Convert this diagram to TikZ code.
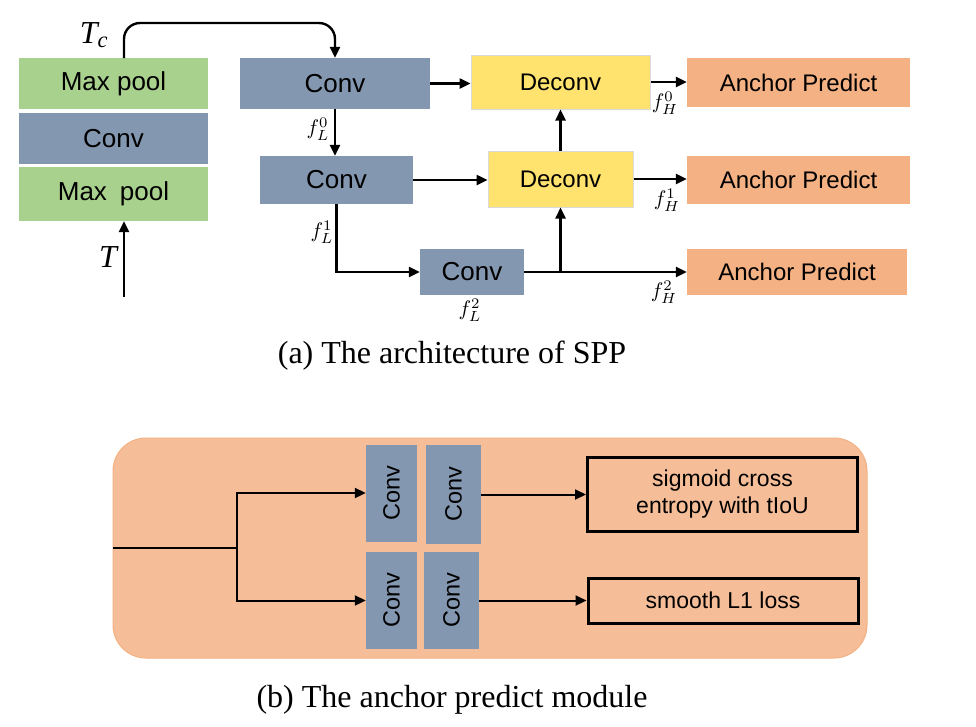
\documentclass[tikz,border=0pt]{standalone}
\usepackage{fontspec}
\setmainfont{Liberation Serif}
\setsansfont{Liberation Sans}
\usetikzlibrary{arrows.meta,calc}
\definecolor{poolgreen}{HTML}{A9D18E}
\definecolor{convblue}{HTML}{8497B0}
\definecolor{deconvyellow}{HTML}{FFE36E}
\definecolor{predictorange}{HTML}{F4B183}
\definecolor{modulebg}{HTML}{F6BE98}
\newcommand{\Feat}[2]{\scalebox{2.1}{$f_{#1}^{#2}$}}
\tikzset{
    >={Triangle[length=11pt,width=10pt]},
    link/.append style={line width=2.4pt},
    thinlink/.append style={line width=2pt},
    block/.append style={inner sep=0pt,font=\sffamily\fontsize{26}{30}\selectfont},
    pool/.append style={block,fill=poolgreen,minimum width=189pt},
    conv/.append style={block,fill=convblue},
    deconv/.append style={block,fill=deconvyellow,draw=black!15,line width=1pt,font=\sffamily\fontsize{24}{28}\selectfont},
    predict/.append style={block,fill=predictorange,minimum width=223pt,font=\sffamily\fontsize{24}{28}\selectfont},
    vconv/.append style={block,fill=convblue,minimum height=97pt,font=\sffamily\fontsize{23.5}{28}\selectfont},
    loss/.append style={block,draw=black,line width=3pt,minimum width=270pt,align=center,font=\sffamily\fontsize{23}{27}\selectfont},
    feat/.append style={inner sep=0pt},
    tensor/.append style={inner sep=0pt,font=\rmfamily\itshape\fontsize{32}{36}\selectfont},
    caption/.append style={inner sep=0pt,font=\rmfamily\fontsize{32}{36}\selectfont},
}

\begin{document}
\begin{tikzpicture}[x=1pt,y=-1pt]
    \useasboundingbox (0,0) rectangle (976,726);

    \node[pool,minimum height=51pt] (poolA) at (113.5, 83.5) {Max pool};
    \node[conv,minimum width=189pt,minimum height=51pt] (convA) at (113.5,138.5) {Conv};
    \node[pool,minimum height=54pt] (poolB) at (113.5,194) {Max\enspace pool};

    \node[conv,minimum width=190pt,minimum height=51pt] (conv0) at (335, 83.5) {Conv};
    \node[conv,minimum width=153pt,minimum height=48pt] (conv1) at (336.5,180) {Conv};
    \node[conv,minimum width=104pt,minimum height=46pt] (conv2) at (472,272) {Conv};

    \node[deconv,minimum width=179pt,minimum height=54pt] (deconv0) at (560.5,82) {Deconv};
    \node[deconv,minimum width=145pt,minimum height=56pt] (deconv1) at (560.5,179) {Deconv};

    \node[predict,minimum height=49pt] (pred0) at (798.5,82.5) {Anchor\ Predict};
    \node[predict,minimum height=48pt] (pred1) at (798.5,180) {Anchor\ Predict};
    \node[predict,minimum height=46pt,minimum width=220pt] (pred2) at (797,272) {Anchor\ Predict};

    \node[tensor] (tclabel) at (94,35) {T\textsubscript{c}};
    \node[tensor] (tlabel) at (108,257) {T};
    \node[feat] (fl0) at (318,129) {\Feat{L}{0}};
    \node[feat] (fl1) at (322,232) {\Feat{L}{1}};
    \node[feat] (fl2) at (470,310) {\Feat{L}{2}};
    \node[feat] (fh0) at (665,103) {\Feat{H}{0}};
    \node[feat] (fh1) at (667,200) {\Feat{H}{1}};
    \node[feat] (fh2) at (664,292) {\Feat{H}{2}};

    \coordinate (tin) at (124,297);
    \coordinate (tc) at (124,58);
    \coordinate (join) at (deconv1.south |- conv2.east);

    \draw[link,->] (tin) -- (tin |- poolB.south);
    \draw[link,->,rounded corners=16pt] (tc) -- (124,23) -- (conv0.north |- 0,23) -- (conv0.north);

    \path[link,->] (conv0.south) edge (conv0.south |- conv1.north)
                   (conv0.east) edge (conv0.east -| deconv0.west)
                   (conv1.east) edge (conv1.east -| deconv1.west)
                   (deconv0.east) edge (deconv0.east -| pred0.west)
                   (deconv1.east) edge (deconv1.east -| pred1.west)
                   (conv2.east) edge (pred2.west)
                   (join) edge (deconv1.south)
                   (deconv1.north) edge (deconv0.south);
    \draw[link,->] (conv1.south) |- (conv2.west);

    \node[caption] (capa) at (452,356) {(a) The architecture of SPP};

    \node[draw=predictorange,fill=modulebg,line width=1pt,rounded corners=33pt,
          minimum width=754pt,minimum height=220pt] (module) at (490,548) {};

    \node[vconv,minimum width=51pt] (head0) at (391.5,493) {\rotatebox{90}{Conv}};
    \node[vconv,minimum width=55pt,minimum height=99pt] (head1) at (453.5,494.5) {\rotatebox{90}{Conv}};
    \node[vconv,minimum width=51pt] (head2) at (391.5,600.5) {\rotatebox{90}{Conv}};
    \node[vconv,minimum width=55pt] (head3) at (451.5,600.5) {\rotatebox{90}{Conv}};

    \node[loss,minimum height=74pt] (cls) at (722.5,494) {sigmoid cross\\entropy with tIoU};
    \node[loss,minimum height=45pt] (reg) at (723,600.5) {smooth L1 loss};

    \coordinate (split) at (237,548);

    \draw[thinlink] (module.west) -- (split);
    \draw[thinlink,->] (split) |- (head0.west);
    \draw[thinlink,->] (split) |- (head2.west);
    \path[thinlink,->] (head1.east) edge (head1.east -| cls.west)
                       (head3.east) edge (head3.east -| reg.west);

    \node[caption] (capb) at (452,700) {(b) The anchor predict module};
\end{tikzpicture}
\end{document}
